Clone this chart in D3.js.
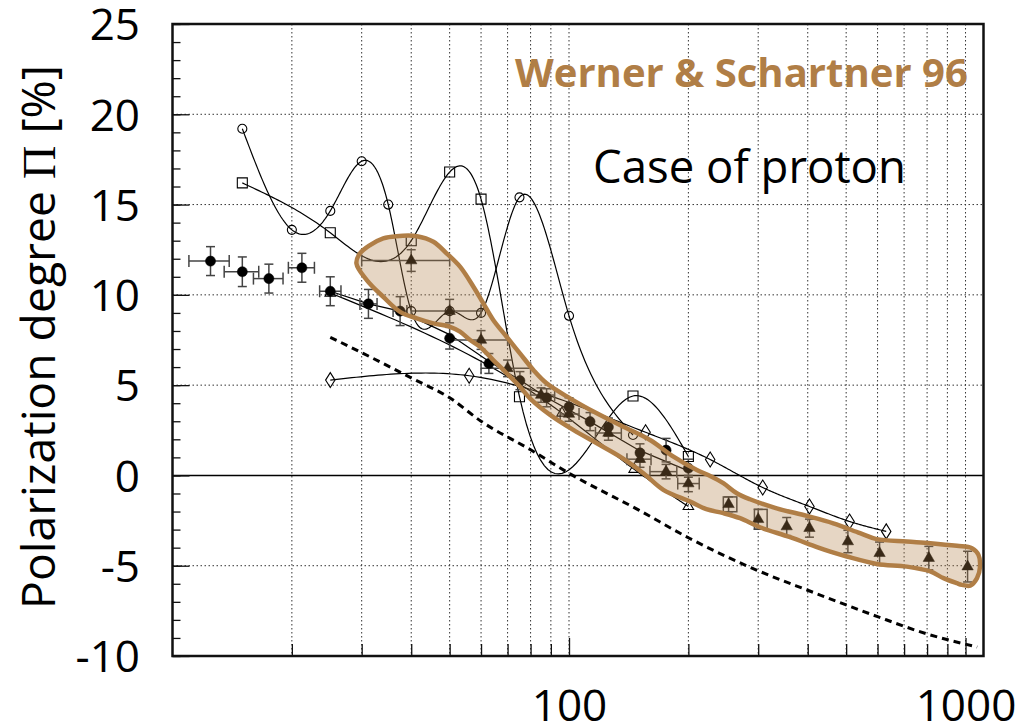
<!DOCTYPE html>
<html>
<head>
<meta charset="utf-8">
<script src="https://cdn.jsdelivr.net/npm/d3@7"></script>
<style>
  body { margin: 0; background: #fff; }
  svg { display: block; }
</style>
</head>
<body>
<svg id="chart" width="1026" height="727"></svg>
<script>
// ---- Measured points: filled circles (photon energy, polarization, energy range, error) ----
const circleE   = [12.47, 15.0, 17.5, 21.2, 25.0, 31.2, 37.5, 50, 62.8, 75.2, 87.8, 100, 113, 125.7, 151, 175.7, 200];
const circleP   = [11.87, 11.28, 10.9, 11.5, 10.2, 9.5, 9.1, 7.6, 6.2, 5.25, 4.3, 3.8, 2.98, 2.68, 1.25, 1.4, 0.4];
const circleElo = [11.0, 13.5, 16.0, 19.6, 23.5, 29.7, 36.0, 50, 62.8, 75.2, 87.8, 100, 113, 125.7, 151, 175.7, 200];
const circleEhi = [13.9, 16.5, 19.0, 22.8, 26.6, 32.8, 39.0, 50, 62.8, 75.2, 87.8, 100, 113, 125.7, 151, 175.7, 200];
const circleErr = [0.8, 0.82, 0.8, 0.8, 0.8, 0.8, 0.8, 0.6, 0.55, 0.5, 0.5, 0.5, 0.5, 0.5, 0.5, 0.65, 0.5];

// ---- Measured points: filled triangles (Werner & Schartner 96) ----
const triE   = [40, 50, 60, 70, 85, 100, 125.7, 151, 175.7, 200, 252.6, 300, 354, 404, 505, 607, 808, 1012];
const triP   = [11.9, 9.1, 7.5, 5.93, 4.45, 3.4, 2.35, 0.9, 0.21, -0.45, -1.6, -2.43, -2.83, -2.92, -3.66, -4.31, -4.58, -5.05];
const triElo = [30, 40, 50, 60, 80, 95, 116.6, 140, 160, 188, 252.6, 300, 354, 404, 505, 607, 808, 1012];
const triEhi = [50, 60, 70, 80, 92, 106, 135.5, 161, 187, 213, 252.6, 300, 354, 404, 505, 607, 808, 1012];
const triErr = [0.6, 0.65, 0.52, 0.46, 0.4, 0.4, 0.4, 0.45, 0.4, 0.45, 0.41, 0.55, 0.5, 0.5, 0.62, 0.62, 0.65, 0.85];
// systematic boxes around two of the triangles
const boxE0 = [245, 293.5];
const boxE1 = [265, 316];
const boxP0 = [-2.01, -2.98];
const boxP1 = [-1.19, -1.88];

// ---- Calculated curves (open markers) ----
const openCircE = [15, 20, 25, 30, 35, 40, 50, 60, 75, 100, 145];
const openCircP = [19.2, 13.6, 14.65, 17.4, 15.0, 9.1, 9.1, 9.0, 15.4, 8.84, 2.24];
const squareE   = [15, 25, 40, 50, 60, 75, 145, 200];
const squareP   = [16.2, 13.44, 13.0, 16.8, 15.3, 4.36, 4.4, 1.05];
const diamondE  = [25, 56, 156, 227, 308, 404, 510, 631];
const diamondP  = [5.28, 5.52, 2.39, 0.88, -0.67, -1.72, -2.55, -3.1];
const openTriE  = [25, 96, 146, 200];
const openTriP  = [10.1, 3.45, 0.34, -1.72];

// thin line following the filled circles
const lineAE = [25, 31.2, 37.5, 50, 63, 75, 88, 113, 150, 200];
const lineAP = [10.2, 9.5, 9.1, 7.8, 6.3, 5.3, 4.3, 2.98, 1.4, 0.25];

// dashed curve
const dashE = [25, 30, 40, 50, 60, 80, 100, 150, 200, 300, 400, 500, 600, 800, 1070];
const dashP = [7.65, 6.8, 5.4, 4.3, 3.0, 1.42, 0.12, -1.92, -3.45, -5.28, -6.36, -7.17, -7.82, -8.78, -9.5];

// Werner & Schartner 96 band outline (closed)
const bandE = [29.1, 29.7, 31.5, 34.0, 36.7, 41.3, 45.5, 49.1, 53.1, 57.4, 60.8, 64.4, 69.6, 75.2, 81.3, 87.8,
  100.6, 117.5, 137.1, 160.1, 183.4, 210.1, 227, 245, 265, 286, 334, 398, 464, 542, 597, 711, 815, 951, 1038,
  1078, 1088, 1069, 1028, 979, 951, 880, 815, 711, 597, 502, 456, 422, 361, 303, 270, 245, 222, 202,
  172.9, 154.0, 134.5, 117.5, 102.5, 89.6, 79.7, 75.2, 69.6, 64.4, 59.6, 56.3, 53.1, 50.1, 45.5, 41.3, 37.5, 34.0, 30.9];
const bandP = [11.74, 12.30, 12.76, 13.13, 13.25, 13.25, 12.94, 12.30, 11.56, 10.45, 9.53, 8.61, 7.68, 6.76, 5.84, 5.10,
  4.27, 3.44, 2.70, 1.96, 1.04, 0.30, -0.03, -0.43, -0.99, -1.32, -1.82, -2.24, -2.65, -3.2, -3.53, -3.66, -3.75, -3.9, -4.03,
  -4.4, -5.05, -5.69, -6.1, -6.06, -5.97, -5.69, -5.32, -5.05, -4.9, -4.49, -4.22, -3.97, -3.42, -2.87, -2.37, -2.09, -1.87, -1.45,
  -0.8, 0.12, 1.04, 1.78, 2.52, 3.35, 4.27, 4.91, 5.66, 6.39, 7.13, 7.5, 7.96, 8.23, 8.42, 8.70, 9.06, 9.89, 10.82];

// axis ticks and grid
const yLabels = [25, 20, 15, 10, 5, 0, -5, -10];
const yGrid = [20, 15, 10, 5, -5];
const xGrid = [20, 30, 40, 50, 60, 70, 80, 90, 100, 200, 300, 400, 500, 600, 700, 800, 900, 1000];
const xMinor = [20, 30, 40, 50, 60, 70, 80, 90, 200, 300, 400, 500, 600, 700, 800, 900];
const xMajor = [100, 1000];

const titleText = "Werner & Schartner 96";
const caseText = "Case of proton";

const zip = (a, b) => a.map((v, i) => [v, b[i]]);

// natural cubic spline of P over log10(E), sampled for drawing the calculated curves
function splinePoints(E, P, steps = 32) {
  const u = E.map(Math.log10), n = u.length;
  const h = d3.range(n - 1).map(i => u[i + 1] - u[i]);
  const A = new Array(n).fill(0), Bd = new Array(n).fill(1), C = new Array(n).fill(0), D = new Array(n).fill(0);
  for (let i = 1; i < n - 1; i++) {
    A[i] = h[i - 1]; Bd[i] = 2 * (h[i - 1] + h[i]); C[i] = h[i];
    D[i] = 6 * ((P[i + 1] - P[i]) / h[i] - (P[i] - P[i - 1]) / h[i - 1]);
  }
  const cp = new Array(n).fill(0), dp = new Array(n).fill(0);
  cp[0] = C[0] / Bd[0]; dp[0] = D[0] / Bd[0];
  for (let i = 1; i < n; i++) {
    const m = Bd[i] - A[i] * cp[i - 1];
    cp[i] = C[i] / m; dp[i] = (D[i] - A[i] * dp[i - 1]) / m;
  }
  const M = new Array(n).fill(0);
  M[n - 1] = dp[n - 1];
  for (let i = n - 2; i >= 0; i--) M[i] = dp[i] - cp[i] * M[i + 1];
  const pts = [];
  for (let i = 0; i < n - 1; i++) {
    for (let k = 0; k < steps; k++) {
      const uu = u[i] + (k / steps) * h[i];
      const a = u[i + 1] - uu, b = uu - u[i];
      const v = M[i] * a * a * a / (6 * h[i]) + M[i + 1] * b * b * b / (6 * h[i])
        + (P[i] / h[i] - M[i] * h[i] / 6) * a + (P[i + 1] / h[i] - M[i + 1] * h[i] / 6) * b;
      pts.push([Math.pow(10, uu), v]);
    }
  }
  pts.push([E[n - 1], P[n - 1]]);
  return pts;
}

// ---- drawing ----
const svg = d3.select("#chart");
const L = 172.5, R = 983.5, T = 24, B = 656;
const x = d3.scaleLog().domain([10, 1110]).range([L, R]);
const y = d3.scaleLinear().domain([-10, 25]).range([B, T]);
const brown = "#b07e46";
const ink = "#000";

// grid
const grid = svg.append("g").attr("stroke", "#333").attr("stroke-width", 1).attr("stroke-dasharray", "1.5,2.5");
grid.selectAll(".gv").data(xGrid).join("line").attr("class", "gv")
  .attr("x1", d => x(d)).attr("x2", d => x(d)).attr("y1", T).attr("y2", B);
grid.selectAll(".gh").data(yGrid).join("line").attr("class", "gh")
  .attr("x1", L).attr("x2", R).attr("y1", d => y(d)).attr("y2", d => y(d));
svg.append("line").attr("x1", L).attr("x2", R).attr("y1", y(0)).attr("y2", y(0))
  .attr("stroke", ink).attr("stroke-width", 1.5);

const line = d3.line().x(d => x(d[0])).y(d => y(d[1]));

// dashed curve
svg.append("path").attr("d", line.curve(d3.curveMonotoneX)(zip(dashE, dashP)))
  .attr("fill", "none").attr("stroke", ink).attr("stroke-width", 3).attr("stroke-dasharray", "7,5");
line.curve(d3.curveLinear);

// calculated curves
const curves = svg.append("g").attr("fill", "none").attr("stroke", ink).attr("stroke-width", 1.2);
curves.append("path").attr("d", line(splinePoints(openCircE, openCircP)));
curves.append("path").attr("d", line(splinePoints(squareE, squareP)));
curves.append("path").attr("d", line(splinePoints(diamondE, diamondP)));
curves.append("path").attr("d", line(splinePoints(openTriE, openTriP)));
curves.append("path").attr("d", line(zip(lineAE, lineAP)));

// error bars
const eb = svg.append("g").attr("stroke", "#444").attr("stroke-width", 1.5).attr("fill", "none");
function errorBars(E, P, Elo, Ehi, Err, capV, capH) {
  E.forEach((e, i) => {
    const cx = x(e), cy = y(P[i]);
    const y0 = y(P[i] - Err[i]), y1 = y(P[i] + Err[i]);
    eb.append("line").attr("x1", cx).attr("x2", cx).attr("y1", y0).attr("y2", y1);
    eb.append("line").attr("x1", cx - capV).attr("x2", cx + capV).attr("y1", y0).attr("y2", y0);
    eb.append("line").attr("x1", cx - capV).attr("x2", cx + capV).attr("y1", y1).attr("y2", y1);
    if (Ehi[i] > Elo[i]) {
      const xa = x(Elo[i]), xb = x(Ehi[i]);
      eb.append("line").attr("x1", xa).attr("x2", xb).attr("y1", cy).attr("y2", cy);
      eb.append("line").attr("x1", xa).attr("x2", xa).attr("y1", cy - capH).attr("y2", cy + capH);
      eb.append("line").attr("x1", xb).attr("x2", xb).attr("y1", cy - capH).attr("y2", cy + capH);
    }
  });
}
errorBars(circleE, circleP, circleElo, circleEhi, circleErr, 4.5, 6);
errorBars(triE, triP, triElo, triEhi, triErr, 4.5, 6);
boxE0.forEach((e, i) => {
  eb.append("rect").attr("x", x(e)).attr("y", y(boxP1[i]))
    .attr("width", x(boxE1[i]) - x(e)).attr("height", y(boxP0[i]) - y(boxP1[i]));
});

// markers
const mk = svg.append("g");
const sym = (type, size) => d3.symbol().type(type).size(size)();
function markers(E, P, path, filled, sw) {
  mk.selectAll(null).data(zip(E, P)).join("path")
    .attr("d", path)
    .attr("transform", d => `translate(${x(d[0])},${y(d[1])})`)
    .attr("fill", filled ? ink : "none")
    .attr("stroke", ink).attr("stroke-width", sw);
}
const diamondPath = "M0,-7.5L4.7,0L0,7.5L-4.7,0Z";
markers(openCircE, openCircP, sym(d3.symbolCircle, 64), false, 1.1);
markers(squareE, squareP, "M-5,-5H5V5H-5Z", false, 1.1);
markers(diamondE, diamondP, diamondPath, false, 1.1);
markers(openTriE, openTriP, sym(d3.symbolTriangle, 48), false, 1.1);
markers(circleE, circleP, sym(d3.symbolCircle, 80), true, 0.5);
markers(triE, triP, sym(d3.symbolTriangle, 56), true, 0.5);

// Werner & Schartner 96 band
const bandLine = d3.line().x(d => x(d[0])).y(d => y(d[1])).curve(d3.curveCatmullRomClosed.alpha(0.5));
const bandPts = zip(bandE, bandP);
svg.append("path").attr("d", bandLine(bandPts)).attr("fill", brown).attr("fill-opacity", 0.32).attr("stroke", "none");
svg.append("path").attr("d", bandLine(bandPts)).attr("fill", "none").attr("stroke", brown)
  .attr("stroke-width", 4.5).attr("stroke-linejoin", "round");

// frame
svg.append("rect").attr("x", L).attr("y", T).attr("width", R - L).attr("height", B - T)
  .attr("fill", "none").attr("stroke", "#111").attr("stroke-width", 2.5);

// inner ticks
function tickAxis(axis, tx, ty) {
  const g = svg.append("g").attr("transform", `translate(${tx},${ty})`).call(axis);
  g.select(".domain").remove();
  g.selectAll("line").attr("stroke", "#111").attr("stroke-width", 1.3);
  g.selectAll("text").remove();
  return g;
}
tickAxis(d3.axisRight(y).tickValues(d3.range(-10, 26, 1)).tickSize(8), L, 0);
tickAxis(d3.axisRight(y).tickValues(d3.range(-10, 26, 5)).tickSize(17), L, 0);
tickAxis(d3.axisTop(x).tickValues(xMinor).tickSize(12), 0, B);
tickAxis(d3.axisTop(x).tickValues(xMajor).tickSize(18), 0, B);

// tick labels
const font = "'Open Sans', 'Noto Sans', sans-serif";
const yl = svg.append("g").attr("transform", "translate(140,0)")
  .call(d3.axisLeft(y).tickValues(yLabels).tickSize(0).tickPadding(0).tickFormat(d => String(d)));
yl.select(".domain").remove();
yl.attr("font-family", font).attr("font-size", 44);
yl.selectAll("text").attr("fill", ink).attr("dy", "0.36em");

const xl = svg.append("g").attr("transform", `translate(0,${B})`)
  .call(d3.axisBottom(x).tickValues(xMajor).tickSize(0).tickPadding(34).tickFormat(d => String(d)));
xl.select(".domain").remove();
xl.attr("font-family", font).attr("font-size", 44);
xl.selectAll("text").attr("fill", ink);

// fit a text element to a target width
function fit(sel, target) {
  const w = sel.node().getComputedTextLength();
  sel.attr("font-size", parseFloat(sel.attr("font-size")) * target / w);
}

// y axis title
const yt = svg.append("text")
  .attr("transform", "translate(55,337) rotate(-90)")
  .attr("text-anchor", "middle").attr("font-family", font).attr("font-size", 46).attr("fill", ink);
yt.append("tspan").text("Polarization degree ");
yt.append("tspan").attr("font-family", "'Liberation Serif', 'DejaVu Serif', serif").text("\u03A0");
yt.append("tspan").text(" [%]");
fit(yt, 544);

// annotations
const t1 = svg.append("text").attr("x", 515).attr("y", 87).attr("font-family", font)
  .attr("font-weight", 700).attr("font-size", 40).attr("fill", brown).text(titleText);
fit(t1, 453);
const t2 = svg.append("text").attr("x", 593).attr("y", 183).attr("font-family", font)
  .attr("font-size", 46).attr("fill", ink).text(caseText);
fit(t2, 313);
</script>
</body>
</html>
